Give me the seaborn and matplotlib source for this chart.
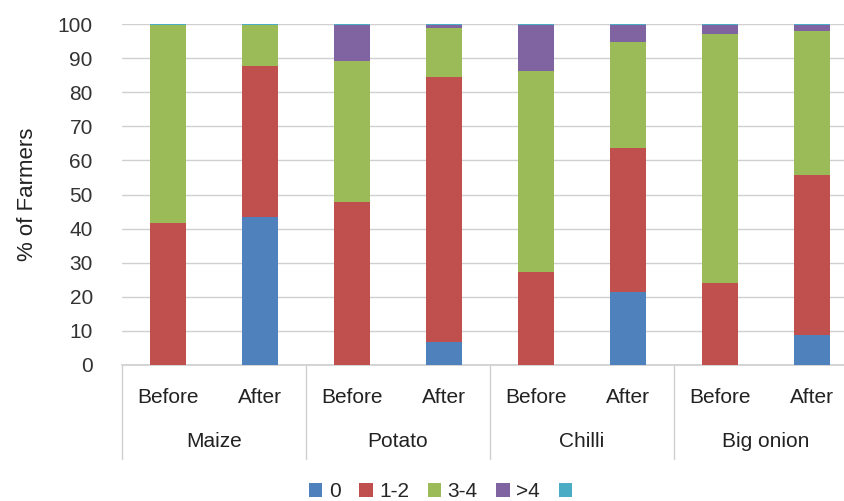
import matplotlib
matplotlib.use('Agg')
import matplotlib.pyplot as plt
import seaborn as sns
import numpy as np
import pandas as pd
from matplotlib.patches import Patch

crops = ['Maize', 'Potato', 'Chilli', 'Big onion']
periods = ['Before', 'After']
categories = ['0', '1-2', '3-4', '>4', '']
colors = ['#4F81BD', '#C0504D', '#9BBB59', '#8064A2', '#4BACC6']

# % of farmers per bar, order: Maize B/A, Potato B/A, Chilli B/A, Big onion B/A
cat_0 = [0.0, 43.3, 0.0, 6.8, 0.0, 21.5, 0.0, 8.9]
cat_1_2 = [41.5, 44.3, 47.7, 77.7, 27.4, 42.0, 24.1, 46.8]
cat_3_4 = [58.1, 12.0, 41.5, 14.3, 58.8, 31.2, 72.9, 42.4]
cat_gt4 = [0.0, 0.0, 10.4, 0.8, 13.4, 4.9, 2.6, 1.5]
cat_other = [0.4, 0.4, 0.4, 0.4, 0.4, 0.4, 0.4, 0.4]

series = [cat_0, cat_1_2, cat_3_4, cat_gt4, cat_other]
bar_ids = [f'{c} {p}' for c in crops for p in periods]

cum = np.cumsum(np.array(series), axis=0)

sns.set_theme(style='white')
plt.rcParams['font.family'] = ['Liberation Sans', 'DejaVu Sans']

fig = plt.figure(figsize=(8.45, 5.01), dpi=100)
ax = fig.add_axes([0.1444, 0.2715, 0.871, 0.6805])

for i in range(len(series) - 1, -1, -1):
    df = pd.DataFrame({'bar': bar_ids, 'value': cum[i]})
    sns.barplot(data=df, x='bar', y='value', order=bar_ids, color=colors[i],
                width=0.4, saturation=1, ax=ax, linewidth=0, zorder=3)

ax.set_xlim(-0.5, 7.5)
ax.set_ylim(0, 100)
ax.set_yticks(range(0, 101, 10))
ax.tick_params(axis='y', labelsize=15, colors='#333333', length=0, pad=21)
ax.yaxis.grid(True, color='#d0d0d0', linewidth=1, zorder=0)
ax.set_axisbelow(True)
for s in ['top', 'right', 'left']:
    ax.spines[s].set_visible(False)
ax.spines['bottom'].set_color('#d0d0d0')
ax.set_xticks([])
ax.set_xlabel('')
ax.set_ylabel('% of Farmers', fontsize=16, color='#222222', labelpad=14)

# two-level category labels
trans = ax.get_xaxis_transform()
for j, p in enumerate(bar_ids):
    ax.text(j, -0.095, periods[j % 2], transform=trans, ha='center', va='center',
            fontsize=15, color='#222222')
for g, c in enumerate(crops):
    ax.text(2 * g + 0.5, -0.225, c, transform=trans, ha='center', va='center',
            fontsize=15, color='#222222')
for b in [-0.5, 1.5, 3.5, 5.5]:
    ax.plot([b, b], [0, -0.275], transform=trans, color='#d0d0d0', linewidth=1,
            clip_on=False)

handles = [Patch(facecolor=c, edgecolor='none') for c in colors]
fig.legend(handles, categories, loc='center', bbox_to_anchor=(0.525, 0.018),
           ncol=5, frameon=False, fontsize=15, handlelength=0.65, handleheight=0.65,
           handletextpad=0.3, columnspacing=0.9)

fig.savefig('out.png', dpi=100)
